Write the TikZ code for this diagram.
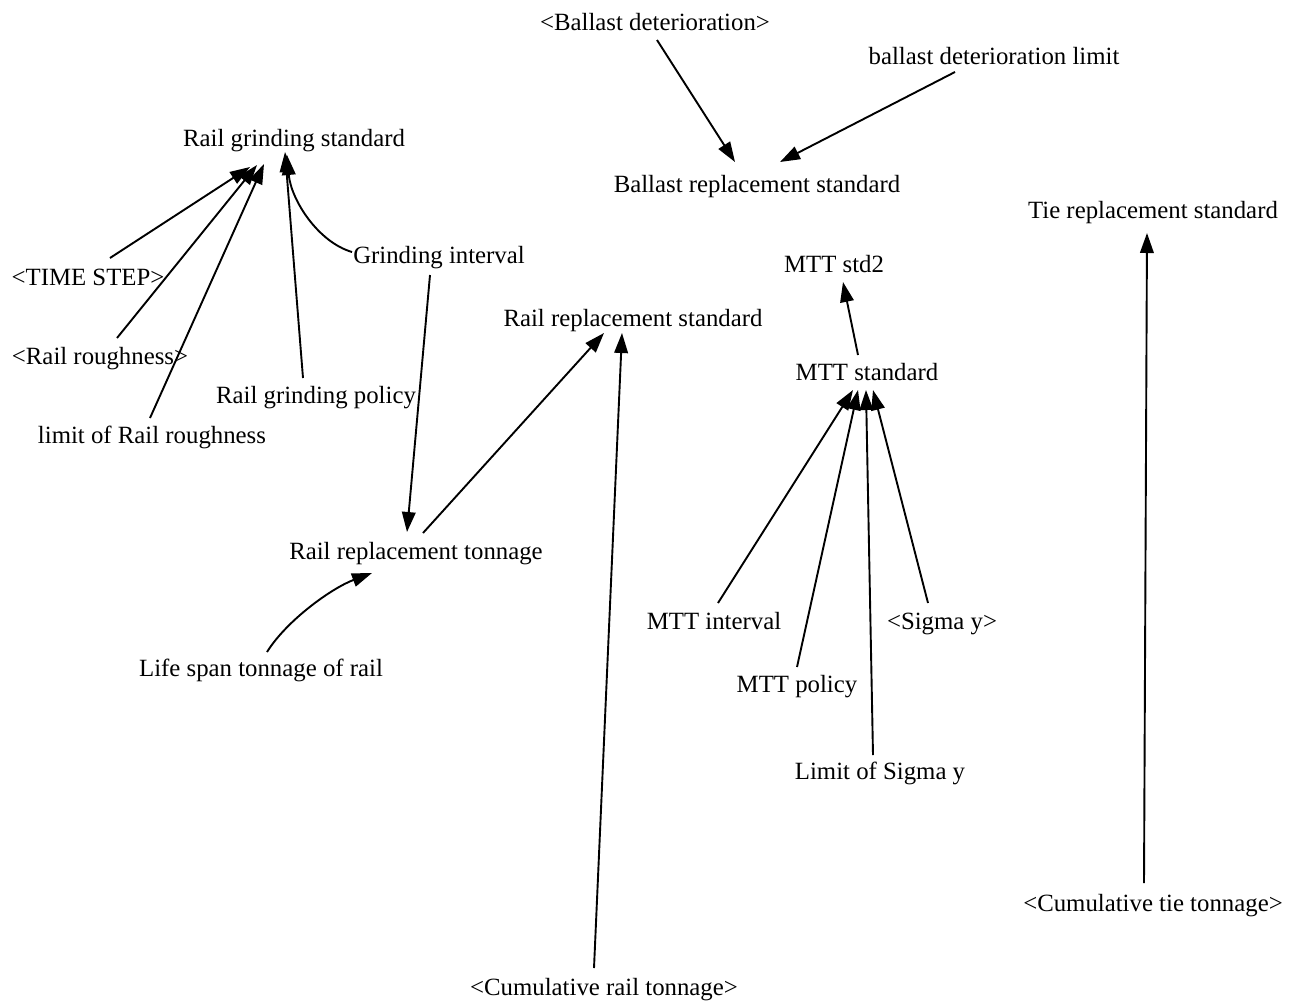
\documentclass[tikz,border=0pt]{standalone}
\usepackage{fontspec}
\setmainfont{Liberation Serif}
\usetikzlibrary{arrows.meta}
\begin{document}
\begin{tikzpicture}[x=0.5pt,y=-0.5pt,
  var/.style={inner sep=0pt,font=\fontsize{12.4}{14}\selectfont,text height=0.9em,text depth=0.1em},
  link/.style={line width=0.95pt,-{Triangle[length=10pt,width=6.8pt]}}]
\useasboundingbox (0,0) rectangle (1296,1002);

% variables
\node[var] (bd)   at (655,22)  {<Ballast deterioration>};
\node[var] (bdl)  at (994,56)  {ballast deterioration limit};
\node[var] (rgs)  at (294,138) {Rail grinding standard};
\node[var] (brs)  at (757,184) {Ballast replacement standard};
\node[var] (trs)  at (1153,210) {Tie replacement standard};
\node[var] (gi)   at (439,255) {Grinding interval};
\node[var] (ts)   at (88,277)  {<TIME STEP>};
\node[var] (mtt2) at (834,264) {MTT std2};
\node[var] (rrs)  at (633,318) {Rail replacement standard};
\node[var] (rr)   at (100,356) {<Rail roughness>};
\node[var] (mtts) at (867,372) {MTT standard};
\node[var] (rgp)  at (316,395) {Rail grinding policy};
\node[var] (lrr)  at (152,435) {limit of Rail roughness};
\node[var] (rrt)  at (416,551) {Rail replacement tonnage};
\node[var] (mi)   at (714,621) {MTT interval};
\node[var] (sy)   at (942,621) {<Sigma y>};
\node[var] (ls)   at (261,668) {Life span tonnage of rail};
\node[var] (mp)   at (797,684) {MTT policy};
\node[var] (lsy)  at (880,771) {Limit of Sigma y};
\node[var] (ctt)  at (1153,903) {<Cumulative tie tonnage>};
\node[var] (crt)  at (604,987) {<Cumulative rail tonnage>};

% ballast
\draw[link] ([shift={(2,18)}]bd.center) -- ([shift={(-22,-22)}]brs.center);
\draw[link] ([shift={(-39,16)}]bdl.center) -- ([shift={(23,-22)}]brs.center);

% rail grinding
\draw[link] ([shift={(22,-19)}]ts.center) -- ([shift={(-44,29)}]rgs.center);
\draw[link] ([shift={(17,-18)}]rr.center) -- ([shift={(-37,27)}]rgs.center);
\draw[link] ([shift={(-2,-17)}]lrr.center) -- ([shift={(-30,26)}]rgs.center);
\draw[link] ([shift={(-13,-17)}]rgp.center) -- ([shift={(-9,14)}]rgs.center);
\draw[link] ([shift={(-87,-3)}]gi.center) .. controls ([shift={(-121,-13)}]gi.center) and ([shift={(-3,62)}]rgs.center) .. ([shift={(-7,17)}]rgs.center);

% rail replacement
\draw[link] ([shift={(-9,20)}]gi.center) -- ([shift={(-9,-19)}]rrt.center);
\draw[link] ([shift={(7,-18)}]rrt.center) -- ([shift={(-29,15)}]rrs.center);
\draw[link] ([shift={(6,-16)}]ls.center) .. controls ([shift={(26,-48)}]ls.center) and ([shift={(-84,37)}]rrt.center) .. ([shift={(-44,22)}]rrt.center);
\draw[link] ([shift={(-10,-19)}]crt.center) -- ([shift={(-11,15)}]rrs.center);

% MTT
\draw[link] ([shift={(-9,-17)}]mtts.center) -- ([shift={(9,18)}]mtt2.center);
\draw[link] ([shift={(4,-18)}]mi.center) -- ([shift={(-14,18)}]mtts.center);
\draw[link] ([shift={(0,-17)}]mp.center) -- ([shift={(-9,18)}]mtts.center);
\draw[link] ([shift={(-7,-16)}]lsy.center) -- ([shift={(-1,18)}]mtts.center);
\draw[link] ([shift={(-14,-18)}]sy.center) -- ([shift={(6,18)}]mtts.center);

% tie
\draw[link] ([shift={(-9,-20)}]ctt.center) -- ([shift={(-6,23)}]trs.center);
\end{tikzpicture}
\end{document}
